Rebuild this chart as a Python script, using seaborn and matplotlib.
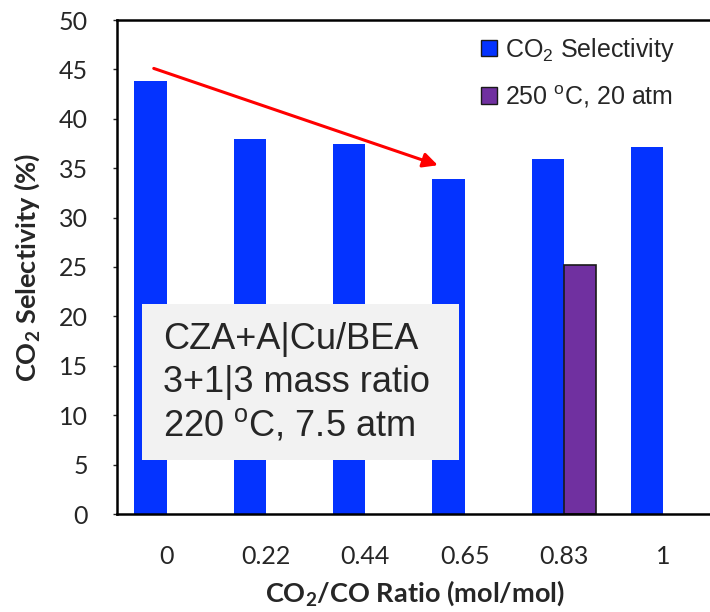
import matplotlib
matplotlib.use("Agg")
import matplotlib.pyplot as plt
from matplotlib.patches import Rectangle, Patch
import seaborn as sns
import pandas as pd

ratios = ["0", "0.22", "0.44", "0.65", "0.83", "1"]
co2_selectivity = [43.8, 38.0, 37.4, 33.9, 35.9, 37.1]
hot_ratios = ["0.83"]
hot_selectivity = [25.2]
series_names = ["CO$_2$ Selectivity", "250 $^{\\mathregular{o}}$C, 20 atm"]

df = pd.DataFrame({
    "ratio": ratios + hot_ratios,
    "value": co2_selectivity + hot_selectivity,
    "series": [series_names[0]] * len(ratios) + [series_names[1]] * len(hot_ratios),
})

sns.set_style("white")
plt.rcParams["font.family"] = ["Liberation Sans", "DejaVu Sans"]
plt.rcParams["mathtext.default"] = "regular"

fig = plt.figure(figsize=(7.1, 6.12), dpi=100)
ax = fig.add_axes([117 / 710, 98 / 612, 596 / 710, 494 / 612])

colors = {series_names[0]: "#0433FF", series_names[1]: "#7030A0"}
sns.barplot(data=df, x="ratio", y="value", hue="series", order=ratios,
            hue_order=series_names, palette=colors, width=0.65, dodge=True,
            ax=ax, legend=False, saturation=1)

for p in ax.patches:
    fc = p.get_facecolor()
    if abs(fc[0] - 0x70 / 255) < 0.02:
        p.set_edgecolor("#1a1a1a")
        p.set_linewidth(1.2)
    else:
        p.set_edgecolor("none")

ax.set_xlim(-0.5, 5.5)
ax.set_ylim(0, 50)
ax.set_yticks(range(0, 51, 5))
ax.tick_params(axis="y", direction="out", length=3, width=1, labelsize=18, left=True, pad=18)
ax.tick_params(axis="x", length=0, labelsize=18, pad=22)
for lab in ax.get_xticklabels() + ax.get_yticklabels():
    lab.set_family(["Lato", "DejaVu Sans"])

for s in ["left", "top", "bottom"]:
    ax.spines[s].set_visible(True)
    ax.spines[s].set_color("black")
    ax.spines[s].set_linewidth(1.8)
ax.spines["right"].set_visible(False)

ax.set_xlabel("CO$_2$/CO Ratio (mol/mol)", fontsize=19.5, fontweight="bold",
              family=["Lato", "DejaVu Sans"], labelpad=8)
ax.set_ylabel("CO$_2$ Selectivity (%)", fontsize=19.5, fontweight="bold",
              family=["Lato", "DejaVu Sans"], labelpad=12)

# trend arrow
ax.annotate("", xy=(2.73, 35.3), xytext=(-0.13, 45.1),
            arrowprops=dict(arrowstyle="-|>", color="#FF0000", lw=2.2,
                            mutation_scale=22, shrinkA=0, shrinkB=0))

# annotation box
ax.add_patch(Rectangle((-0.252, 5.47), 3.19, 15.78, facecolor="#F2F2F2",
                       edgecolor="none", zorder=4))
box_lines = ["CZA+A|Cu/BEA", "3+1|3 mass ratio", "220 $^{\\mathregular{o}}$C, 7.5 atm"]
for i, t in enumerate(box_lines):
    ax.text(-0.04, 17.7 - i * 4.35, t, fontsize=26, va="center", ha="left", zorder=5)

handles = [Patch(facecolor=colors[n], edgecolor="#1a1a1a", linewidth=1) for n in series_names]
ax.legend(handles, series_names, loc="upper left", bbox_to_anchor=(0.611, 0.968),
          frameon=False, fontsize=18, handlelength=0.64, handleheight=0.64,
          handletextpad=0.3, labelspacing=0.78, borderpad=0, borderaxespad=0)

fig.savefig("out.png", dpi=100)
